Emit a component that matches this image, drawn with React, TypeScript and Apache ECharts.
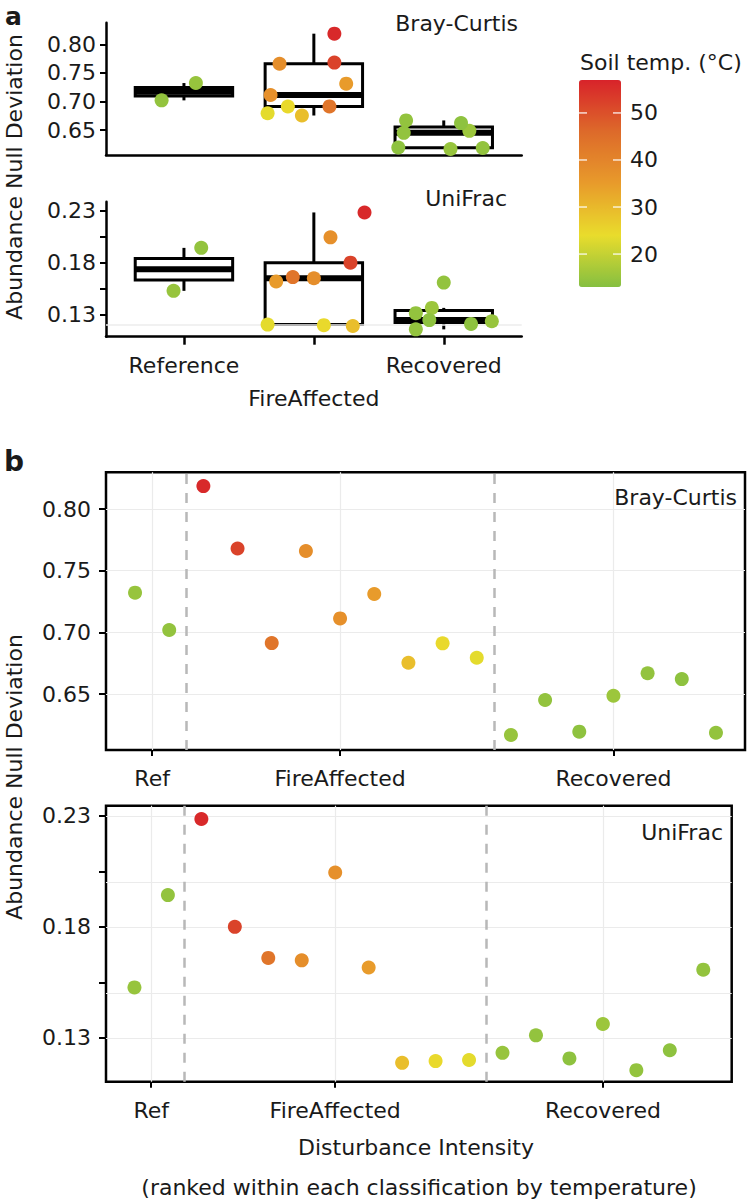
import React, { useEffect, useRef } from 'react';
import * as echarts from 'echarts';

// ---------- data ----------
const groupNames = ['Reference', 'FireAffected', 'Recovered'];
const groupPositions = [1, 2, 3];
const rankTickLabels = ['Ref', 'FireAffected', 'Recovered'];
const rankTickPositions = [0.5, 6, 14];
const dividerPositions = [1.5, 10.5];

// sample index -> classification (0 Reference, 1 FireAffected, 2 Recovered), ranked by temperature
const groupOfSample = [0, 0, 1, 1, 1, 1, 1, 1, 1, 1, 1, 2, 2, 2, 2, 2, 2, 2];
const soilTemp = [15, 14.5, 56, 52, 43.5, 38, 37.5, 35, 29, 24.5, 23.5, 15, 14.5, 14, 15.5, 14.5, 14, 14.5];
const brayCurtis = [0.7322, 0.7019, 0.8186, 0.768, 0.6913, 0.766, 0.7113, 0.7311, 0.6754, 0.6911, 0.6794, 0.6168, 0.6451, 0.6195, 0.6486, 0.6668, 0.6621, 0.6186];
const uniFrac = [0.1527, 0.1943, 0.2286, 0.18, 0.166, 0.1649, 0.2045, 0.1617, 0.1187, 0.1195, 0.12, 0.1232, 0.1311, 0.1207, 0.1362, 0.1154, 0.1244, 0.1607];
// horizontal jitter (category units)
const jitterBC = [0.092, -0.172, 0.158, 0.158, 0.12, -0.264, -0.333, 0.249, -0.092, -0.2, -0.356, 0.052, -0.308, -0.35, 0.197, -0.29, 0.133, 0.3];
const jitterUF = [-0.08, 0.133, 0.39, 0.282, -0.162, 0.0, 0.128, -0.29, 0.3, 0.077, -0.356, 0.37, -0.215, 0.21, -0.092, -0.215, -0.111, 0.0];

// box statistics [min, Q1, median, Q3, max]
const bcBoxStats = [
  [0.7019, 0.7095, 0.717, 0.7246, 0.7322],
  [0.6754, 0.6911, 0.7113, 0.766, 0.8186],
  [0.6168, 0.6191, 0.6451, 0.6554, 0.6668],
];
const ufBoxStats = [
  [0.1527, 0.1631, 0.1735, 0.1839, 0.1943],
  [0.1187, 0.12, 0.1649, 0.18, 0.2286],
  [0.1154, 0.122, 0.1244, 0.1337, 0.1362],
];
const faintLineUF = [0.1187];

const bcTicks = [0.65, 0.7, 0.75, 0.8];
const ufTicks = [0.13, 0.155, 0.18, 0.205, 0.23];
const ufLabels = [0.13, 0.18, 0.23];
const tempTicks = [20, 30, 40, 50];
const tempMin = 13;
const tempMax = 57;
const tempColors = ['#85bf41', '#e9dc2c', '#e89b2b', '#dd6a2a', '#d8232a'];

// ---------- style ----------
const FONT = 'DejaVu Sans';
const TXT = '#1a1a1a';
const BOX_HALF = 0.375;

const legendLeft = 579;
const legendTop = 80;
const legendW = 42;
const legendH = 207;

function boxRender(params: any, api: any) {
  const x = api.value(0);
  const mn = api.value(1), q1 = api.value(2), md = api.value(3), q3 = api.value(4), mx = api.value(5);
  const top = api.coord([x, mx]);
  const bot = api.coord([x, mn]);
  const pq3 = api.coord([x, q3]);
  const pq1 = api.coord([x, q1]);
  const tl = api.coord([x - BOX_HALF, q3]);
  const br = api.coord([x + BOX_HALF, q1]);
  const ml = api.coord([x - BOX_HALF, md]);
  const mr = api.coord([x + BOX_HALF, md]);
  const st = { stroke: '#000', lineWidth: 3, fill: null };
  return {
    type: 'group',
    children: [
      { type: 'line', shape: { x1: top[0], y1: top[1], x2: pq3[0], y2: pq3[1] }, style: st },
      { type: 'line', shape: { x1: bot[0], y1: bot[1], x2: pq1[0], y2: pq1[1] }, style: st },
      { type: 'rect', shape: { x: tl[0], y: tl[1], width: br[0] - tl[0], height: br[1] - tl[1] }, style: { stroke: '#000', lineWidth: 3, fill: '#fff' } },
      { type: 'line', shape: { x1: ml[0], y1: ml[1], x2: mr[0], y2: mr[1] }, style: { stroke: '#000', lineWidth: 6 } },
    ],
  };
}

function txt(text: string, x: number, y: number, opts: any = {}) {
  const align = opts.align || 'left';
  const va = opts.verticalAlign || 'middle';
  return {
    type: 'text',
    x,
    y,
    rotation: opts.rotation || 0,
    silent: true,
    z: 100,
    style: {
      text,
      fill: opts.fill || TXT,
      fontSize: opts.fontSize || 22,
      fontFamily: opts.fontFamily || FONT,
      fontWeight: opts.fontWeight || 'normal',
      align,
      verticalAlign: va,
      textAlign: align,
      textVerticalAlign: va,
    },
  };
}

function buildOption() {
  const idx = brayCurtis.map((_, i) => i);
  const aBC = idx.map((i) => [groupPositions[groupOfSample[i]] + jitterBC[i], brayCurtis[i], soilTemp[i]]);
  const aUF = idx.map((i) => [groupPositions[groupOfSample[i]] + jitterUF[i], uniFrac[i], soilTemp[i]]);
  const bBC = idx.map((i) => [i, brayCurtis[i], soilTemp[i]]);
  const bUF = idx.map((i) => [i, uniFrac[i], soilTemp[i]]);

  const blackLine = { color: '#000', width: 2.5 };
  const labelBase = { fontSize: 22, fontFamily: FONT, color: TXT };

  const yAxisA = (gridIndex: number, min: number, max: number, ticks: number[], labels: number[]) => ({
    type: 'value', gridIndex, min, max,
    axisLine: { show: true, onZero: false, lineStyle: blackLine },
    axisTick: { show: true, length: 6, customValues: ticks, lineStyle: { color: '#000', width: 2 } },
    axisLabel: { ...labelBase, margin: 10, customValues: labels, formatter: (v: number) => v.toFixed(2) },
    splitLine: { show: false },
  });
  const yAxisB = (gridIndex: number, min: number, max: number, ticks: number[], labels: number[]) => ({
    type: 'value', gridIndex, min, max,
    axisLine: { show: false, onZero: false },
    axisTick: { show: true, length: 7, customValues: ticks, lineStyle: { color: '#000', width: 2 } },
    axisLabel: { ...labelBase, margin: 15, customValues: labels, formatter: (v: number) => v.toFixed(2) },
    splitLine: { show: false },
  });
  const xAxisB = (gridIndex: number, margin: number) => ({
    type: 'value', gridIndex, min: -0.85, max: 17.85,
    axisLine: { show: false, onZero: false },
    axisTick: { show: true, length: 6, customValues: rankTickPositions, lineStyle: { color: '#000', width: 2 } },
    axisLabel: {
      ...labelBase, margin, lineHeight: 24, customValues: rankTickPositions,
      formatter: (v: number) => rankTickLabels[rankTickPositions.indexOf(v)] ?? '',
    },
    splitLine: { show: false },
  });

  const scatterBase = { type: 'scatter', symbol: 'circle', symbolSize: 14, z: 5, silent: true, itemStyle: { opacity: 1 } };

  const emptyMark = (xi: number, data: any[], lineStyle: any, z: number) => ({
    type: 'line', xAxisIndex: xi, yAxisIndex: xi, data: [], z, silent: true,
    markLine: { silent: true, symbol: ['none', 'none'], label: { show: false }, animation: false, lineStyle, data, emphasis: { disabled: true } },
  });

  const legendTickY = (v: number) => legendTop + ((tempMax - v) / (tempMax - tempMin)) * legendH;

  const graphics: any[] = [
    txt('a', 5, 4, { fontSize: 25, fontWeight: 'bold', verticalAlign: 'top' }),
    txt('b', 4, 461, { fontSize: 28, fontWeight: 'bold' }),
    txt('Bray-Curtis', 518, 23, { align: 'right' }),
    txt('UniFrac', 507, 198, { align: 'right' }),
    txt('Bray-Curtis', 737, 497, { align: 'right' }),
    txt('UniFrac', 723, 832, { align: 'right' }),
    txt('Abundance Null Deviation', 14, 177, { align: 'center', rotation: Math.PI / 2 }),
    txt('Abundance Null Deviation', 14, 777, { align: 'center', rotation: Math.PI / 2 }),
    txt('Disturbance Intensity', 416, 1147, { align: 'center' }),
    txt('(ranked within each classification by temperature)', 419, 1187, { align: 'center' }),
    txt('Soil temp. (°C)', 580, 62),
  ];
  tempTicks.forEach((t) => {
    const y = legendTickY(t);
    graphics.push(txt(String(t), 630, y));
    graphics.push({ type: 'line', silent: true, z: 100, shape: { x1: legendLeft, y1: y, x2: legendLeft + 8, y2: y }, style: { stroke: '#fff', lineWidth: 1.5, opacity: 0.8 } });
    graphics.push({ type: 'line', silent: true, z: 100, shape: { x1: legendLeft + legendW - 8, y1: y, x2: legendLeft + legendW, y2: y }, style: { stroke: '#fff', lineWidth: 1.5, opacity: 0.8 } });
  });

  return {
    animation: false,
    backgroundColor: '#fff',
    textStyle: { fontFamily: FONT },
    grid: [
      { left: 106, top: 22.7, width: 415.7, height: 132.3, outerBoundsMode: 'none', containLabel: false },
      { left: 106, top: 201.7, width: 415.7, height: 135, outerBoundsMode: 'none', containLabel: false },
      { left: 106, top: 472.3, width: 639, height: 277.7, show: true, borderColor: '#000', borderWidth: 2.5, backgroundColor: 'transparent', outerBoundsMode: 'none', containLabel: false },
      { left: 106, top: 805.7, width: 625.7, height: 276, show: true, borderColor: '#000', borderWidth: 2.5, backgroundColor: 'transparent', outerBoundsMode: 'none', containLabel: false },
    ],
    xAxis: [
      {
        type: 'value', gridIndex: 0, min: 0.4, max: 3.6,
        axisLine: { show: true, onZero: false, lineStyle: blackLine },
        axisTick: { show: false }, axisLabel: { show: false }, splitLine: { show: false },
      },
      {
        type: 'value', gridIndex: 1, min: 0.4, max: 3.6,
        axisLine: { show: true, onZero: false, lineStyle: blackLine },
        axisTick: { show: true, length: 8, customValues: groupPositions, lineStyle: { color: '#000', width: 2.5 } },
        axisLabel: {
          ...labelBase, margin: 12, lineHeight: 33, customValues: groupPositions,
          formatter: (v: number) => {
            const k = groupPositions.indexOf(v);
            return k === 1 ? '\n' + groupNames[k] : groupNames[k] ?? '';
          },
        },
        splitLine: { show: false },
      },
      xAxisB(2, 16),
      xAxisB(3, 17),
    ],
    yAxis: [
      yAxisA(0, 0.6063, 0.8378, bcTicks, bcTicks),
      yAxisA(1, 0.1083, 0.239, ufTicks, ufLabels),
      yAxisB(2, 0.6046, 0.8298, bcTicks, bcTicks),
      yAxisB(3, 0.1102, 0.2346, ufTicks, ufLabels),
    ],
    visualMap: {
      type: 'continuous',
      min: tempMin, max: tempMax,
      dimension: 2,
      seriesIndex: [2, 4, 8, 9],
      calculable: false,
      hoverLink: false,
      orient: 'vertical',
      left: legendLeft, top: legendTop,
      itemWidth: legendW, itemHeight: legendH,
      padding: 0,
      text: null,
      inRange: { color: tempColors },
    },
    graphic: graphics,
    series: [
      // 0: box a BC
      { type: 'custom', xAxisIndex: 0, yAxisIndex: 0, z: 2, silent: true, renderItem: boxRender,
        encode: { x: 0, y: [1, 2, 3, 4, 5] }, data: bcBoxStats.map((s, i) => [groupPositions[i], ...s]) },
      // 1: faint line a UF
      emptyMark(1, faintLineUF.map((v) => ({ yAxis: v })), { color: '#ededed', width: 1.5, type: 'solid' }, 1),
      // 2: points a BC
      { ...scatterBase, xAxisIndex: 0, yAxisIndex: 0, data: aBC },
      // 3: box a UF
      { type: 'custom', xAxisIndex: 1, yAxisIndex: 1, z: 2, silent: true, renderItem: boxRender,
        encode: { x: 0, y: [1, 2, 3, 4, 5] }, data: ufBoxStats.map((s, i) => [groupPositions[i], ...s]) },
      // 4: points a UF
      { ...scatterBase, xAxisIndex: 1, yAxisIndex: 1, data: aUF },
      // 5,6: grid lines b
      emptyMark(2, [...bcTicks.map((v) => ({ yAxis: v })), ...rankTickPositions.map((v) => ({ xAxis: v }))], { color: '#ebebeb', width: 1.2, type: 'solid' }, 1),
      emptyMark(3, [...ufTicks.map((v) => ({ yAxis: v })), ...rankTickPositions.map((v) => ({ xAxis: v }))], { color: '#ebebeb', width: 1.2, type: 'solid' }, 1),
      // 7: dashed dividers b BC
      emptyMark(2, dividerPositions.map((v) => ({ xAxis: v })), { color: '#b8b8b8', width: 2.5, type: [10, 9] }, 2),
      // 8: points b BC
      { ...scatterBase, xAxisIndex: 2, yAxisIndex: 2, data: bBC },
      // 9: points b UF
      { ...scatterBase, xAxisIndex: 3, yAxisIndex: 3, data: bUF },
      // 10: dashed dividers b UF
      emptyMark(3, dividerPositions.map((v) => ({ xAxis: v })), { color: '#b8b8b8', width: 2.5, type: [10, 9] }, 2),
    ],
  };
}

export default function App() {
  const ref = useRef<HTMLDivElement>(null);
  useEffect(() => {
    document.body.style.margin = '0';
    const chart = echarts.init(ref.current!, null, { renderer: 'svg' });
    chart.setOption(buildOption() as any);
    return () => chart.dispose();
  }, []);
  return <div ref={ref} style={{ position: 'absolute', left: 0, top: 0, width: 748, height: 1201 }} />;
}
